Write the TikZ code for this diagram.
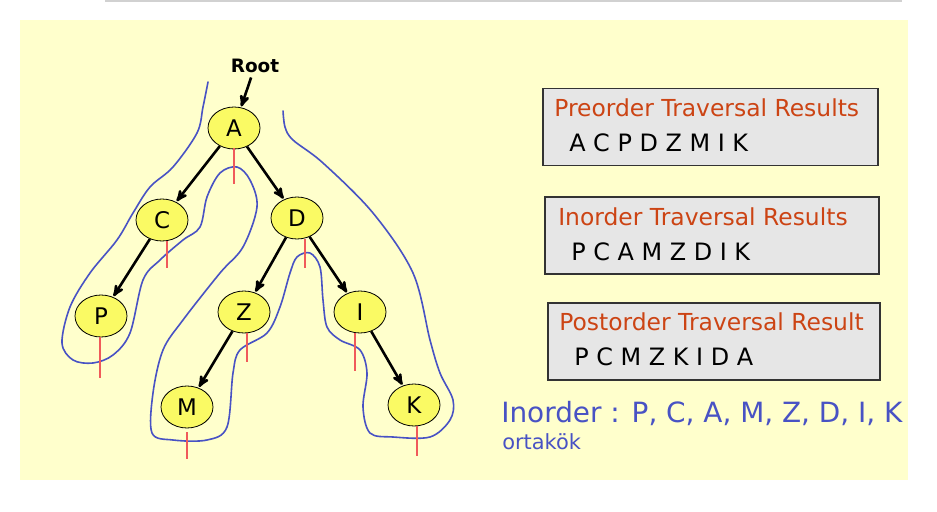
\documentclass[tikz,border=0pt]{standalone}
\usepackage{fontspec}
\setmainfont{DejaVu Sans}
\usetikzlibrary{arrows,positioning,shapes.geometric}
\definecolor{bgyellow}{RGB}{255,255,204}
\definecolor{nodeyellow}{RGB}{250,250,100}
\definecolor{boxgray}{RGB}{230,230,230}
\definecolor{titlered}{RGB}{204,68,20}
\definecolor{penblue}{RGB}{72,82,196}
\definecolor{tickred}{RGB}{240,90,90}

\begin{document}
\begin{tikzpicture}[x=1bp,y=-1bp,->,>=stealth',shorten >=1pt,line width=2.6bp,
    tree node/.style={ellipse,draw,line width=0.8bp,fill=nodeyellow,minimum width=52bp,minimum height=42bp,inner sep=0pt,font=\fontsize{23}{23}\selectfont},
    res box/.style={rectangle,draw=black!80,fill=boxgray,line width=1.5bp,minimum height=77bp},
    res title/.style={anchor=west,inner sep=0pt,text=titlered,font=\fontsize{23.5}{23.5}\selectfont},
    res text/.style={anchor=west,inner sep=0pt,font=\fontsize{24}{24}\selectfont},
    redtick/.style={-,draw=tickred,line width=1.2bp},
    pencurve/.style={-,draw=penblue,line width=1.6bp,line cap=round,line join=round}]

\useasboundingbox (0,0) rectangle (937,512);
\fill[bgyellow] (20,20) rectangle (908,480);
\draw[-,draw=black!18,line width=2bp] (105,1) -- (903,1);

% hand drawn contour round the tree
\draw[pencurve] plot[smooth,tension=0.55] coordinates {
  (208,82) (203,107) (197,133) (173,167) (150,187) (133,213) (117,240)
  (90,273) (70,307) (62,343) (73,360) (93,363) (113,355) (130,333)
  (143,280) (160,260) (183,240) (200,227) (207,197) (220,173) (237,167)
  (250,180) (257,207) (243,247) (220,273) (183,320) (163,350) (153,393)
  (152,433) (173,440) (207,440) (227,427) (233,373) (240,350) (267,333)
  (280,307) (290,273) (297,257) (310,253) (320,267) (323,300) (327,327)
  (340,340) (360,350) (367,373) (363,407) (370,433) (393,437) (430,437)
  (450,420) (453,400) (440,373) (430,340) (413,273) (373,213) (323,163)
  (293,140) (285,127) (283,110)};

\node[tree node] (A) at (234,128) {A};
\node[tree node] (C) at (162,220) {C};
\node[tree node] (D) at (297,218) {D};
\node[tree node] (P) at (101,316) {P};
\node[tree node] (Z) at (244,312) {Z};
\node[tree node] (I) at (360,312) {I};
\node[tree node] (M) at (187,407) {M};
\node[tree node] (K) at (414,405) {K};
\node[font=\bfseries\fontsize{18.5}{18.5}\selectfont] (root) at (255,66) {Root};

\path (root) edge (A)
(A) edge (C) edge (D)
(C) edge (P)
(D) edge (Z) edge (I)
(Z) edge (M)
(I) edge (K);

\draw[redtick] ([yshift=1]A.south) -- ++(0,37);
\draw[redtick] ([xshift=5]C.south) -- ++(0,28);
\draw[redtick] ([xshift=8]D.south) -- ++(0,30);
\draw[redtick] ([xshift=-1]P.south) -- ++(0,42);
\draw[redtick] ([xshift=3]Z.south) -- ++(0,30);
\draw[redtick] ([xshift=-5]I.south) -- ++(0,39);
\draw[redtick] ([yshift=-4]M.south) -- ++(0,28);
\draw[redtick] ([xshift=3]K.south) -- ++(0,31);

\node[res box,minimum width=335bp] (prebox) at (710.5,127) {};
\node[res title] (pretitle) at (553,108) {Preorder Traversal Results};
\node[res text] (preres) at (568,143) {A C P D Z M I K};

\node[res box,minimum width=334bp] (inbox) at (712,235.5) {};
\node[res title] (intitle) at (557,217) {Inorder Traversal Results};
\node[res text] (inres) at (570,252) {P C A M Z D I K};

\node[res box,minimum width=332bp] (postbox) at (714,341.5) {};
\node[res title] (posttitle) at (558,322) {Postorder Traversal Result};
\node[res text] (postres) at (573,357) {P C M Z K I D A};

\node[anchor=west,inner sep=0pt,text=penblue,font=\fontsize{28}{28}\selectfont] (hand) at (500,414) {Inorder : P, C, A, M, Z, D, I, K};
\node[anchor=west,inner sep=0pt,text=penblue,font=\fontsize{21}{21}\selectfont] (handsub) at (501,442) {ortakök};
\end{tikzpicture}
\end{document}
